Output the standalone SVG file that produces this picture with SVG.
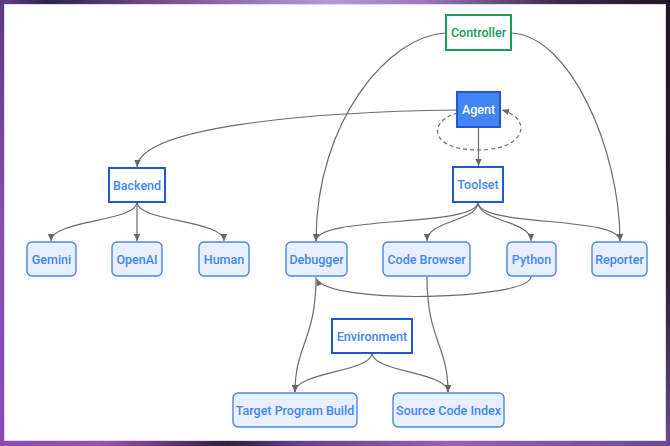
<svg xmlns="http://www.w3.org/2000/svg" width="670" height="446" viewBox="0 0 670 446">
<defs>
<linearGradient id="gTop" x1="0" y1="0" x2="670" y2="0" gradientUnits="userSpaceOnUse">
<stop offset="0" stop-color="#6a3f8f"/><stop offset="0.07" stop-color="#2b2550"/><stop offset="0.22" stop-color="#6c4a86"/><stop offset="0.49" stop-color="#b59ad6"/><stop offset="0.63" stop-color="#9a7ab8"/><stop offset="0.84" stop-color="#3a2a45"/><stop offset="1" stop-color="#201820"/>
</linearGradient>
<linearGradient id="gBot" x1="0" y1="0" x2="670" y2="0" gradientUnits="userSpaceOnUse">
<stop offset="0" stop-color="#8a4ab8"/><stop offset="0.15" stop-color="#a050b0"/><stop offset="0.34" stop-color="#302040"/><stop offset="0.45" stop-color="#6a4090"/><stop offset="0.67" stop-color="#9a60b0"/><stop offset="1" stop-color="#6a4a90"/>
</linearGradient>
<linearGradient id="gLeft" x1="0" y1="0" x2="0" y2="446" gradientUnits="userSpaceOnUse">
<stop offset="0" stop-color="#5a3a80"/><stop offset="0.5" stop-color="#8a4db0"/><stop offset="1" stop-color="#8a48b8"/>
</linearGradient>
<linearGradient id="gRight" x1="0" y1="0" x2="0" y2="446" gradientUnits="userSpaceOnUse">
<stop offset="0" stop-color="#1c1620"/><stop offset="0.6" stop-color="#2a2030"/><stop offset="1" stop-color="#6a4a90"/>
</linearGradient>
<marker id="arr" markerUnits="userSpaceOnUse" markerWidth="8" markerHeight="8" viewBox="0 0 8 8" refX="7" refY="4" orient="auto">
<path d="M0,0.8 L7,4 L0,7.2 Z" fill="#666"/>
</marker>
<style>
.n rect{stroke-width:2}
.sq rect{fill:#fff;stroke:#2458d0}
.rd rect{fill:#e8f0fe;stroke:#4a86e8;stroke-width:1.4}
text{font-family:Roboto,"Liberation Sans",sans-serif;font-size:12.5px;font-weight:500;text-anchor:middle;fill:#4285f4}
#edges path{fill:none;stroke:#6b6b6b;stroke-width:1.2}
</style>
</defs>
<rect x="0" y="0" width="670" height="446" fill="#5a3a80"/>
<rect x="0" y="0" width="670" height="6" fill="url(#gTop)"/>
<rect x="0" y="439" width="670" height="7" fill="url(#gBot)"/>
<rect x="0" y="0" width="5" height="446" fill="url(#gLeft)"/>
<rect x="665" y="0" width="5" height="446" fill="url(#gRight)"/>
<rect x="4.5" y="4.5" width="661" height="436" fill="#fff" stroke="#e3d6f0" stroke-width="1"/>

<g id="edges">
<path d="M446,33 C390,35 316,120 316,241" marker-end="url(#arr)"/>
<path d="M511,33 C570,35 620,150 620,241" marker-end="url(#arr)"/>
<path d="M457,110 C300,112 140,128 137,167" marker-end="url(#arr)"/>
<path d="M478.5,127 L478.5,166" marker-end="url(#arr)"/>
<path d="M458,113 C428,120 428,150 478,150 C528,150 532,118 502,110" stroke-dasharray="4,3" marker-end="url(#arr)"/>
<path d="M137,202 C137,222 51,220 51,241" marker-end="url(#arr)"/>
<path d="M137,202 L137,241" marker-end="url(#arr)"/>
<path d="M137,202 C137,222 224,220 224,241" marker-end="url(#arr)"/>
<path d="M478,202 C478,228 316,215 316,241" marker-end="url(#arr)"/>
<path d="M478,202 C478,222 427,220 427,241" marker-end="url(#arr)"/>
<path d="M478,202 C478,222 531,220 531,241" marker-end="url(#arr)"/>
<path d="M478,202 C478,228 620,215 620,241" marker-end="url(#arr)"/>
<path d="M531,277 C528,300 330,305 316.5,279" marker-end="url(#arr)"/>
<path d="M316,277 C316,340 295,345 295,392" marker-end="url(#arr)"/>
<path d="M427,277 C427,340 448,345 448,392" marker-end="url(#arr)"/>
<path d="M372,353 C372,372 295,372 295,392" marker-end="url(#arr)"/>
<path d="M372,353 C372,372 448,372 448,392" marker-end="url(#arr)"/>
</g>

<g id="controller" class="n"><rect x="446" y="15" width="65" height="35" fill="#fff" stroke="#1a9d55"/><text x="478.5" y="37" style="fill:#0f9d58">Controller</text></g>
<g id="agent" class="n"><rect x="457" y="92" width="43" height="35" fill="#4285f4" stroke="#2458d0"/><text x="478.5" y="114" style="fill:#fff">Agent</text></g>
<g id="toolset" class="n sq"><rect x="453" y="167" width="50" height="35"/><text x="478" y="189">Toolset</text></g>
<g id="backend" class="n sq"><rect x="109" y="168" width="56" height="34"/><text x="137" y="189.5">Backend</text></g>
<g id="environment" class="n sq"><rect x="332" y="319" width="80" height="34"/><text x="372" y="340.5">Environment</text></g>
<g id="gemini" class="n rd"><rect x="27" y="242" width="49" height="34" rx="5"/><text x="51.5" y="263.5">Gemini</text></g>
<g id="openai" class="n rd"><rect x="112" y="242" width="50" height="34" rx="5"/><text x="137" y="263.5">OpenAI</text></g>
<g id="human" class="n rd"><rect x="199" y="242" width="50" height="34" rx="5"/><text x="224" y="263.5">Human</text></g>
<g id="debugger" class="n rd"><rect x="286" y="242" width="61" height="34" rx="5"/><text x="316.5" y="263.5">Debugger</text></g>
<g id="codebrowser" class="n rd"><rect x="383" y="242" width="87" height="34" rx="5"/><text x="426.5" y="263.5">Code Browser</text></g>
<g id="python" class="n rd"><rect x="507" y="242" width="49" height="34" rx="5"/><text x="531.5" y="263.5">Python</text></g>
<g id="reporter" class="n rd"><rect x="592" y="242" width="55" height="34" rx="5"/><text x="619.5" y="263.5">Reporter</text></g>
<g id="targetbuild" class="n rd"><rect x="233" y="393" width="124" height="34" rx="5"/><text x="295" y="414.5">Target Program Build</text></g>
<g id="sourceindex" class="n rd"><rect x="393" y="393" width="111" height="34" rx="5"/><text x="448.5" y="414.5">Source Code Index</text></g>
</svg>
